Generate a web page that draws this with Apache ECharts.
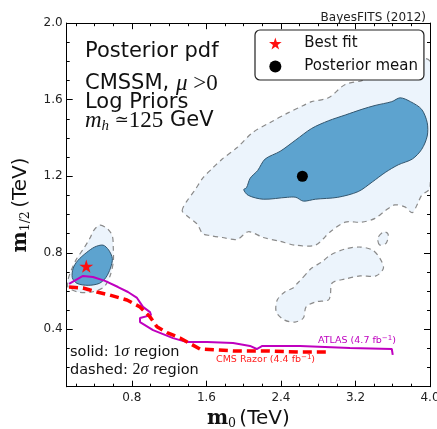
<!DOCTYPE html>
<html>
<head>
<meta charset="utf-8">
<script src="https://cdn.jsdelivr.net/npm/echarts@6/dist/echarts.min.js"></script>
<style>
html,body{margin:0;padding:0;background:#fff;}
#chart{width:437px;height:429px;}
</style>
</head>
<body>
<div id="chart"></div>
<script>
// ---- data (TeV) ----
const xTickLabels = [0.8, 1.6, 2.4, 3.2, 4.0];
const xMinorTicks = [0.2, 0.4, 0.6, 1.0, 1.2, 1.4, 1.8, 2.0, 2.2, 2.6, 2.8, 3.0, 3.4, 3.6, 3.8];
const yTickLabels = [0.4, 0.8, 1.2, 1.6, 2.0];
const yMinorTicks = [0.2, 0.3, 0.5, 0.6, 0.7, 0.9, 1.0, 1.1, 1.3, 1.4, 1.5, 1.7, 1.8, 1.9];

const bestFit = [[0.31, 0.73]];
const posteriorMean = [[2.63, 1.20]];

const atlasLimit = [[0.125,0.637],[0.20,0.658],[0.275,0.679],[0.382,0.673],[0.511,0.653],[0.651,0.621],[0.758,0.595],[0.855,0.564],[0.919,0.517],[0.994,0.490],[1.005,0.474],[0.887,0.459],[0.887,0.438],[1.027,0.396],[1.242,0.354],[1.392,0.333],[1.607,0.333],[1.886,0.328],[2.068,0.313],[2.14,0.297],[2.20,0.313],[2.605,0.313],[3.14,0.302],[3.59,0.297],[3.60,0.266]];
const cmsRazorLimit = [[0.125,0.621],[0.275,0.616],[0.425,0.595],[0.565,0.579],[0.747,0.553],[0.887,0.517],[0.994,0.465],[1.069,0.413],[1.177,0.382],[1.316,0.355],[1.531,0.297],[1.886,0.287],[2.251,0.287],[2.605,0.281],[2.906,0.281]];

const sigma1Main = [[2.03,1.14],[2.07,1.19],[2.15,1.23],[2.23,1.29],[2.39,1.33],[2.56,1.39],[2.73,1.45],[2.91,1.49],[3.09,1.52],[3.27,1.55],[3.41,1.57],[3.59,1.59],[3.68,1.61],[3.79,1.59],[3.91,1.55],[3.97,1.48],[3.97,1.41],[3.91,1.34],[3.81,1.29],[3.66,1.26],[3.52,1.22],[3.38,1.17],[3.23,1.12],[3.01,1.09],[2.77,1.08],[2.64,1.07],[2.56,1.09],[2.47,1.09],[2.21,1.08],[2.05,1.10],[2.00,1.13]];
const sigma1Small = [[0.49,0.84],[0.55,0.815],[0.59,0.77],[0.57,0.72],[0.52,0.67],[0.45,0.64],[0.33,0.63],[0.21,0.64],[0.16,0.67],[0.17,0.72],[0.22,0.76],[0.31,0.80],[0.40,0.83]];

const sigma2Main = [[1.34,1.02],[1.39,1.07],[1.48,1.13],[1.56,1.19],[1.66,1.24],[1.77,1.29],[1.93,1.35],[2.10,1.43],[2.28,1.48],[2.47,1.53],[2.64,1.57],[2.73,1.59],[2.91,1.61],[3.09,1.68],[3.27,1.70],[3.34,1.72],[3.52,1.75],[4.0,1.80],[4.0,1.14],[3.91,1.10],[3.87,1.06],[3.81,1.01],[3.73,1.04],[3.62,1.05],[3.52,1.02],[3.41,0.98],[3.27,0.96],[3.09,0.96],[2.93,0.91],[2.77,0.84],[2.55,0.84],[2.39,0.86],[2.21,0.88],[2.05,0.91],[1.93,0.87],[1.77,0.88],[1.64,0.89],[1.56,0.90],[1.50,0.95],[1.40,0.99]];
const sigma2Small = [[0.46,0.945],[0.54,0.924],[0.59,0.888],[0.60,0.825],[0.60,0.752],[0.565,0.679],[0.50,0.621],[0.37,0.595],[0.22,0.595],[0.114,0.621],[0.114,0.658],[0.146,0.705],[0.20,0.763],[0.286,0.825],[0.35,0.877],[0.393,0.919]];
const sigma2Tail = [[2.64,0.673],[2.73,0.72],[2.84,0.752],[2.93,0.788],[3.09,0.82],[3.25,0.83],[3.38,0.815],[3.46,0.773],[3.50,0.72],[3.42,0.679],[3.25,0.679],[3.09,0.663],[2.95,0.642],[2.93,0.579],[2.91,0.553],[2.77,0.543],[2.67,0.517],[2.64,0.459],[2.55,0.438],[2.44,0.448],[2.35,0.49],[2.36,0.553],[2.44,0.595],[2.53,0.616],[2.58,0.642]];
const sigma2Islet = [[3.46,0.841],[3.44,0.877],[3.50,0.909],[3.55,0.898],[3.53,0.851]];

const sigma2Regions = [sigma2Main, sigma2Small, sigma2Tail, sigma2Islet];
const sigma1Regions = [sigma1Main, sigma1Small];

// ---- chart ----
const chart = echarts.init(document.getElementById('chart'), null, {renderer: 'canvas'});
const SANS = 'DejaVu Sans';
const SERIF = 'Liberation Serif';
const X_MIN = 0.1, X_MAX = 4.0, Y_MIN = 0.1, Y_MAX = 2.0;
const fmt = v => v.toFixed(1);

function regionSeries(name, regions, style, z) {
  return {
    type: 'custom', name: name, silent: true, z: z, clip: true,
    data: regions.map(r => r[0]),
    renderItem: function (params, api) {
      const cs = params.coordSys;
      const pts = regions[params.dataIndex].map(p => api.coord(p));
      return {
        type: 'polygon', shape: {points: pts, smooth: 0.3}, style: style,
        clipPath: {type: 'rect', shape: {x: cs.x, y: cs.y, width: cs.width, height: cs.height}}
      };
    }
  };
}

function xAx(position, ticks, len, labels) {
  return {
    type: 'value', position: position, min: X_MIN, max: X_MAX,
    axisLine: {show: true, onZero: false, lineStyle: {color: '#000', width: 1}},
    axisTick: {show: true, inside: true, length: len, customValues: ticks, lineStyle: {color: '#000', width: 1}},
    axisLabel: labels ? {show: true, customValues: xTickLabels, formatter: fmt, margin: 5,
      fontFamily: SANS, fontSize: 12, color: '#222'} : {show: false},
    splitLine: {show: false}
  };
}
function yAx(position, ticks, len, labels) {
  return {
    type: 'value', position: position, min: Y_MIN, max: Y_MAX,
    axisLine: {show: true, onZero: false, lineStyle: {color: '#000', width: 1}},
    axisTick: {show: true, inside: true, length: len, customValues: ticks, lineStyle: {color: '#000', width: 1}},
    axisLabel: labels ? {show: true, customValues: yTickLabels, formatter: fmt, margin: 4,
      fontFamily: SANS, fontSize: 12, color: '#222'} : {show: false},
    splitLine: {show: false}
  };
}

const nameRich = {
  b: {fontFamily: 'DejaVu Serif', fontWeight: 'bold', fontSize: 20, lineHeight: 24, color: '#111'},
  s: {fontFamily: 'DejaVu Serif', fontSize: 12.5, lineHeight: 13, verticalAlign: 'bottom', color: '#111'},
  t: {fontFamily: SANS, fontSize: 20, lineHeight: 24, color: '#111'}
};
const xAxes = [xAx('bottom', xTickLabels, 6, true), xAx('bottom', xMinorTicks, 3, false),
               xAx('top', xTickLabels, 6, false), xAx('top', xMinorTicks, 3, false)];
xAxes[0].name = '{b|m}{s|0} {t|(TeV)}';
xAxes[0].nameLocation = 'middle';
xAxes[0].nameGap = 18;
xAxes[0].nameTextStyle = {verticalAlign: 'top', rich: nameRich};
const yAxes = [yAx('left', yTickLabels, 6, true), yAx('left', yMinorTicks, 3, false),
               yAx('right', yTickLabels, 6, false), yAx('right', yMinorTicks, 3, false)];
yAxes[0].name = '{b|m}{s|1/2} {t|(TeV)}';
yAxes[0].nameLocation = 'middle';
yAxes[0].nameRotate = 90;
yAxes[0].nameGap = 32;
yAxes[0].nameTextStyle = {rich: nameRich};

const starPath = 'path://M50,0 L61,35 L98,35 L68,57 L79,91 L50,70 L21,91 L32,57 L2,35 L39,35 Z';

const INK = '#111';
const mathRich = {
  n: {fontFamily: SANS, fontSize: 21, fill: INK, lineHeight: 26},
  i: {fontFamily: SERIF, fontStyle: 'italic', fontSize: 23, fill: INK, lineHeight: 26},
  r: {fontFamily: SERIF, fontSize: 23, fill: INK, lineHeight: 26},
  op: {fontFamily: 'DejaVu Serif', fontSize: 17, fill: INK, lineHeight: 26},
  sub: {fontFamily: SERIF, fontStyle: 'italic', fontSize: 15, fill: INK, lineHeight: 13, verticalAlign: 'bottom'}
};
const smallRich = {
  n: {fontFamily: SANS, fontSize: 14.5, fill: INK},
  r: {fontFamily: SERIF, fontSize: 16, fill: INK},
  i: {fontFamily: SERIF, fontStyle: 'italic', fontSize: 16, fill: INK}
};
const limRich = (c) => ({
  n: {fontFamily: SANS, fontSize: 9.5, fill: c},
  sup: {fontFamily: SANS, fontSize: 7, fill: c, verticalAlign: 'top', lineHeight: 12}
});

function txt(x, y, text, rich) {
  return {type: 'text', x: x, y: y, silent: true, z: 50,
    style: {text: text, rich: rich, verticalAlign: 'middle', align: 'left'}};
}

const option = {
  animation: false,
  backgroundColor: '#fff',
  title: {text: 'BayesFITS (2012)', right: 6, top: 7,
    textStyle: {fontFamily: SANS, fontSize: 12, fontWeight: 'normal', color: '#222'}},
  grid: {left: 66.7, right: 7, top: 23.2, bottom: 42.3, containLabel: false, outerBoundsMode: 'none'},
  xAxis: xAxes,
  yAxis: yAxes,
  legend: {
    orient: 'vertical', left: 255, top: 30,
    padding: [6, 6, 6, 14], itemGap: 8, itemWidth: 14, itemHeight: 12,
    backgroundColor: '#fff', borderColor: '#222', borderWidth: 1.2, borderRadius: 5,
    textStyle: {fontFamily: SANS, fontSize: 15, color: '#111', padding: [0, 0, 0, 17]},
    data: ['Best fit', 'Posterior mean'], z: 40
  },
  series: [
    regionSeries('2sigma', sigma2Regions, {fill: '#ecf4fc', stroke: '#8a8a8a', lineWidth: 1.2, lineDash: [5, 4]}, 2),
    regionSeries('1sigma', sigma1Regions, {fill: '#5da3cf', stroke: '#33566e', lineWidth: 1}, 3),
    {type: 'line', name: 'ATLAS', data: atlasLimit, showSymbol: false, silent: true, z: 5,
      lineStyle: {color: '#bf00bf', width: 2}},
    {type: 'line', name: 'CMS Razor', data: cmsRazorLimit, showSymbol: false, silent: true, z: 5,
      lineStyle: {color: '#ff0000', width: 3.5, type: [9, 5]}},
    {type: 'scatter', name: 'Best fit', data: bestFit, symbol: starPath, symbolSize: 14, symbolKeepAspect: true,
      itemStyle: {color: '#ff1010', opacity: 1, borderWidth: 0}, z: 8},
    {type: 'scatter', name: 'Posterior mean', data: posteriorMean, symbol: 'circle', symbolSize: 11,
      itemStyle: {color: '#000', opacity: 1}, z: 8}
  ],
  graphic: [
    txt(85, 52, '{n|Posterior pdf}', mathRich),
    txt(85, 84, '{n|CMSSM, }{i|μ}{r| >0}', mathRich),
    txt(85, 103, '{n|Log Priors}', mathRich),
    txt(85, 121, '{i|m}{sub|h}{op| ≃}{r|125}{n| GeV}', mathRich),
    txt(70, 352, '{n|solid: }{r|1}{i|σ}{n| region}', smallRich),
    txt(70, 370, '{n|dashed: }{r|2}{i|σ}{n| region}', smallRich),
    txt(318, 341, '{n|ATLAS (4.7 fb}{sup|−1}{n|)}', limRich('#bf00bf')),
    txt(216, 360, '{n|CMS Razor (4.4 fb}{sup|−1}{n|)}', limRich('#ff2020'))
  ]
};
chart.setOption(option);
</script>
</body>
</html>
